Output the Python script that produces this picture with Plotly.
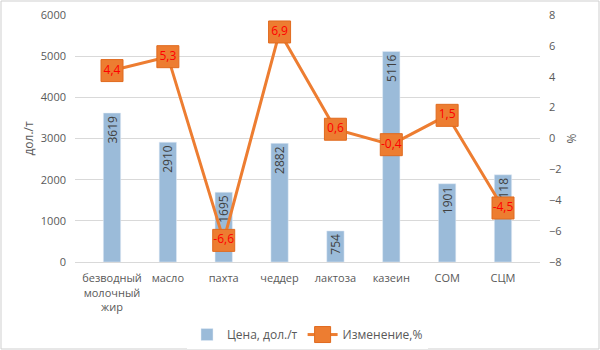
import plotly.graph_objects as go

categories = ["безводный<br>молочный<br>жир", "масло", "пахта", "чеддер", "лактоза", "казеин", "СОМ", "СЦМ"]
price = [3619, 2910, 1695, 2882, 754, 5116, 1901, 2118]
change = [4.4, 5.3, -6.6, 6.9, 0.6, -0.4, 1.5, -4.5]
change_labels = [f"{v:.1f}".replace(".", ",") for v in change]

font_family = "Open Sans, Liberation Sans, sans-serif"
gray = "#595959"

fig = go.Figure()
fig.add_trace(go.Bar(
    x=categories, y=price, name="Цена, дол./т",
    marker_color="#9BBBD9", width=0.31,
    text=[str(v) for v in price], textposition="inside",
    textangle=-90, insidetextanchor="end", constraintext="none",
    textfont=dict(size=12, color="#404040", family=font_family),
    cliponaxis=False,
))
fig.add_trace(go.Scatter(
    x=categories, y=change, name="Изменение,%", yaxis="y2",
    mode="lines+markers+text",
    line=dict(color="#ED7D31", width=3),
    marker=dict(symbol="square", size=22, color="#ED7D31",
                line=dict(color="#E06A1E", width=1)),
    text=change_labels, textposition="middle center",
    textfont=dict(size=12, color="#FF0000", family=font_family),
    cliponaxis=False,
))

fig.update_layout(
    width=600, height=350,
    margin=dict(l=75, r=60, t=15, b=88, autoexpand=False),
    paper_bgcolor="white", plot_bgcolor="white",
    font=dict(family=font_family, size=11, color=gray),
    showlegend=True,
    legend=dict(orientation="h", x=0.5, xanchor="center", y=-0.235, yanchor="top",
                font=dict(size=12, color=gray)),
    xaxis=dict(showgrid=False, showline=True, linecolor="#D9D9D9", automargin=False,
               tickfont=dict(size=11, color=gray), ticks="", ticklabelstandoff=6),
    yaxis=dict(range=[0, 6000], dtick=1000, showgrid=True, gridcolor="#D9D9D9",
               zeroline=False, automargin=False,
               title=dict(text="дол./т", font=dict(size=12, color=gray), standoff=4),
               tickfont=dict(size=11, color=gray), ticklabelstandoff=8),
    yaxis2=dict(range=[-8, 8], dtick=2, overlaying="y", side="right",
                showgrid=False, zeroline=False, automargin=False,
                title=dict(text="%", font=dict(size=12, color=gray), standoff=6),
                tickfont=dict(size=11, color=gray), ticklabelstandoff=8),
    shapes=[dict(type="rect", xref="paper", yref="paper",
                 x0=-74/465, x1=1+59/465, y0=-87/247, y1=1+14/247,
                 line=dict(color="#CFCFCF", width=1))],
)

fig.write_html("out.html")
